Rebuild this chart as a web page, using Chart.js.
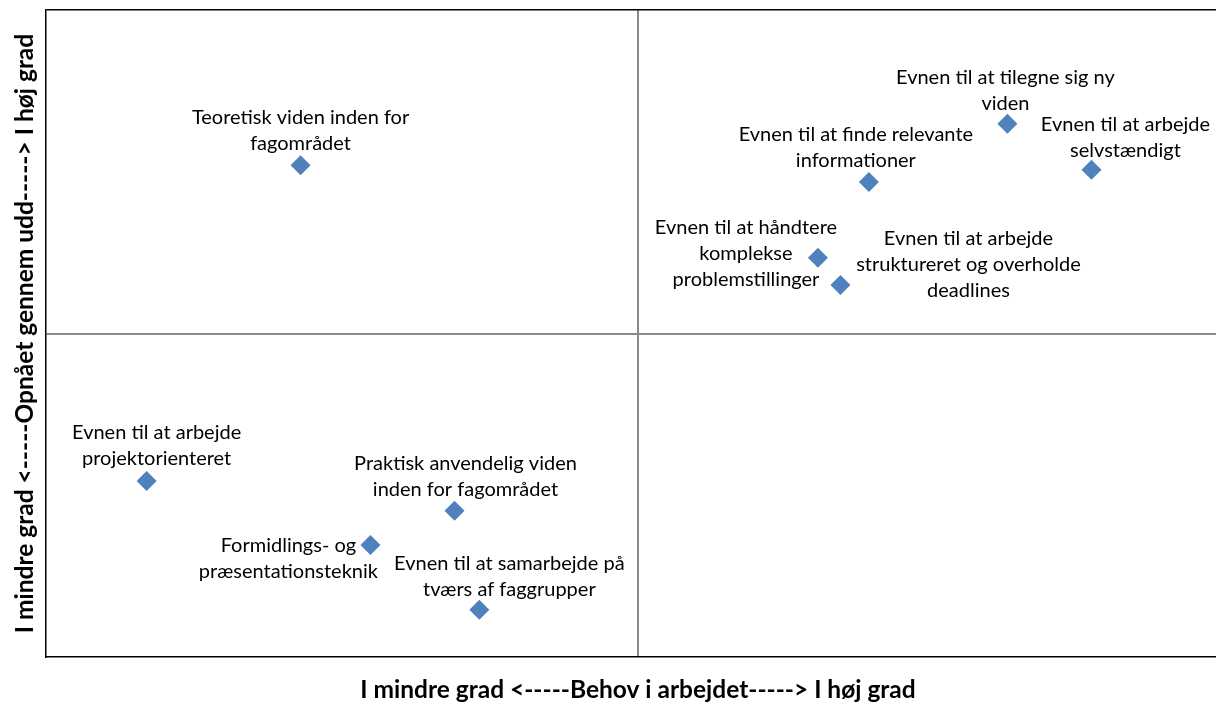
<!DOCTYPE html>
<html>
<head>
<meta charset="utf-8">
<script src="https://cdn.jsdelivr.net/npm/chart.js@4"></script>
<style>
  html, body { margin: 0; padding: 0; background: #fff; overflow: hidden; }
  #wrap { width: 1216px; height: 702px; overflow: hidden; }
</style>
</head>
<body>
<div id="wrap"><canvas id="matrix" width="1240" height="702"></canvas></div>
<script>
// data (scale 0-10 on both axes, quadrants split at 5)
const labels = [
    ['Teoretisk viden inden for', 'fagområdet'],
    ['Evnen til at tilegne sig ny', 'viden'],
    ['Evnen til at arbejde', 'selvstændigt'],
    ['Evnen til at finde relevante', 'informationer'],
    ['Evnen til at håndtere', 'komplekse', 'problemstillinger'],
    ['Evnen til at arbejde', 'struktureret og overholde', 'deadlines'],
    ['Evnen til at arbejde', 'projektorienteret'],
    ['Praktisk anvendelig viden', 'inden for fagområdet'],
    ['Formidlings- og', 'præsentationsteknik'],
    ['Evnen til at samarbejde på', 'tværs af faggrupper']
];
const behov = [2.15, 8.12, 8.83, 6.95, 6.52, 6.71, 0.85, 3.45, 2.74, 3.66];
const opnaaet = [7.60, 8.24, 7.53, 7.34, 6.17, 5.75, 2.72, 2.26, 1.73, 0.73];

// where each label block sits relative to its marker (px)
const labelOffset = [
    [0, -35], [-2, -33], [34, -32], [-13, -35], [-72, -4],
    [128, -20], [10, -35], [11, -34], [-82, 13], [30, -33]
];

const FONT = 'Lato, sans-serif';

const pointLabels = {
    id: 'pointLabels',
    afterDatasetsDraw(chart) {
        const ctx = chart.ctx;
        const meta = chart.getDatasetMeta(0);
        ctx.save();
        ctx.font = '20px ' + FONT;
        ctx.fillStyle = '#000';
        ctx.textAlign = 'center';
        ctx.textBaseline = 'middle';
        const lh = 26;
        meta.data.forEach((pt, i) => {
            const lines = labels[i];
            const cx = pt.x + labelOffset[i][0];
            const cy = pt.y + labelOffset[i][1];
            const top = cy - (lines.length - 1) * lh / 2;
            lines.forEach((t, j) => ctx.fillText(t, cx, top + j * lh));
        });
        ctx.restore();
    }
};

function gridColor(c) {
    if (c.tick.value === 5) return '#898989';
    if (c.tick.value === 10) return '#000';
    return 'rgba(0,0,0,0)';
}

new Chart(document.getElementById('matrix'), {
    type: 'scatter',
    data: {
        datasets: [{
            data: behov.map((x, i) => ({ x: x, y: opnaaet[i] })),
            pointStyle: 'rectRot',
            pointRadius: 10,
            pointHoverRadius: 10,
            backgroundColor: '#4f81bd',
            borderColor: '#4f81bd',
            borderWidth: 0
        }]
    },
    plugins: [pointLabels],
    options: {
        responsive: false,
        animation: false,
        layout: { padding: { left: 13, top: 10, right: 0, bottom: 0 } },
        plugins: { legend: { display: false }, tooltip: { enabled: false } },
        scales: {
            x: {
                min: 0, max: 10,
                ticks: { display: false, stepSize: 5 },
                grid: { color: gridColor, lineWidth: 2, drawTicks: false },
                border: { color: '#000', width: 1.5 },
                title: {
                    display: true,
                    text: 'I mindre grad <-----Behov i arbejdet-----> I høj grad',
                    color: '#000',
                    font: { family: FONT, size: 24.5, weight: 'bold', lineHeight: 1 },
                    padding: { top: 20.5, bottom: 0 }
                }
            },
            y: {
                min: 0, max: 10,
                ticks: { display: false, stepSize: 5 },
                grid: { color: gridColor, lineWidth: c => c.tick.value === 10 ? 1.5 : 2, drawTicks: false },
                border: { color: '#000', width: 1.5 },
                title: {
                    display: true,
                    text: 'I mindre grad <-----Opnået gennem udd-----> I høj grad',
                    color: '#000',
                    font: { family: FONT, size: 24.5, weight: 'bold', lineHeight: 1 },
                    padding: { top: 0, bottom: 8.5 }
                }
            }
        }
    }
});
</script>
</body>
</html>
